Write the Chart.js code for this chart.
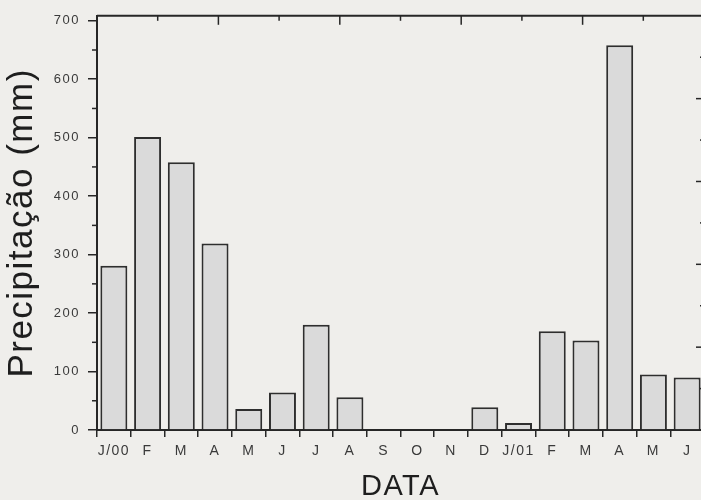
<!DOCTYPE html>
<html>
<head>
<meta charset="utf-8">
<script src="https://cdn.jsdelivr.net/npm/chart.js@4.4.1/dist/chart.umd.min.js"></script>
<style>
  html, body { margin: 0; padding: 0; background: #efeeeb; overflow: hidden; }
  #wrap { width: 706px; height: 500px; position: relative; }
</style>
</head>
<body>
<div id="wrap"><canvas id="c" width="706" height="500"></canvas></div>
<script>
const categories = ['J/00','F','M','A','M','J','J','A','S','O','N','D','J/01','F','M','A','M','J'];
const precipitacao = [281, 501, 458, 319, 36, 64, 180, 56, 0, 0, 0, 39, 12, 169, 153, 658, 95, 90];
const yTicks = [0, 100, 200, 300, 400, 500, 600, 700];
const yMinorTicks = [50, 150, 250, 350, 450, 550, 650];

const ink = '#262626';

const spacingPlugin = {
  id: 'spacing',
  beforeDraw(chart) { chart.ctx.letterSpacing = '1.5px'; },
  afterDatasetsDraw(chart) { chart.ctx.letterSpacing = '0px'; }
};

const framePlugin = {
  id: 'frame',
  afterDraw(chart) {
    const ctx = chart.ctx;
    const a = chart.chartArea;
    const y = chart.scales.y;
    ctx.save();
    ctx.strokeStyle = ink;
    ctx.lineWidth = 2;
    ctx.beginPath();
    ctx.moveTo(a.left, a.top);
    ctx.lineTo(a.right, a.top);
    ctx.stroke();
    ctx.lineWidth = 1.5;
    yMinorTicks.forEach(v => {
      const py = y.getPixelForValue(v);
      ctx.beginPath();
      ctx.moveTo(a.left - 5, py);
      ctx.lineTo(a.left, py);
      ctx.stroke();
    });
    for (let i = 1; i < 10; i++) {
      const px = a.left + (a.right - a.left) * i / 10;
      const len = i % 2 === 0 ? 9 : 5;
      ctx.beginPath();
      ctx.moveTo(px, a.top);
      ctx.lineTo(px, a.top + len);
      ctx.stroke();
    }
    for (let j = 1; j < 10; j++) {
      const py = a.bottom - (a.bottom - a.top) * j / 10;
      const len = j % 2 === 0 ? 8 : 4;
      ctx.beginPath();
      ctx.moveTo(a.right, py);
      ctx.lineTo(a.right - len, py);
      ctx.stroke();
    }
    ctx.restore();
  }
};

new Chart(document.getElementById('c'), {
  type: 'bar',
  data: {
    labels: categories,
    datasets: [{
      data: precipitacao,
      backgroundColor: '#dadada',
      borderColor: '#2e2e2e',
      borderWidth: 2,
      barPercentage: 0.8,
      categoryPercentage: 1.0
    }]
  },
  options: {
    responsive: false,
    animation: false,
    devicePixelRatio: 1,
    layout: { padding: { top: 12, right: 2, left: 0, bottom: 0 } },
    plugins: { legend: { display: false }, tooltip: { enabled: false } },
    scales: {
      x: {
        offset: true,
        grid: { offset: true, drawOnChartArea: false, tickLength: 7, color: ink, lineWidth: 1.5 },
        border: { color: ink, width: 2 },
        ticks: { color: '#3a3a3a', font: { family: 'Liberation Sans, Arial, sans-serif', size: 14 }, padding: 6, maxRotation: 0, autoSkip: false },
        title: { display: true, text: 'DATA', color: '#1e1e1e', font: { family: 'Liberation Sans, Arial, sans-serif', size: 29, lineHeight: 0.9 }, padding: { top: 0, bottom: 0 } },
        afterFit(s) { s.height = 70; }
      },
      y: {
        min: 0,
        max: 708.5,
        afterBuildTicks(s) { s.ticks = yTicks.map(v => ({ value: v })); },
        grid: { drawOnChartArea: false, tickLength: 9, color: ink, lineWidth: 1.5 },
        border: { color: ink, width: 2 },
        ticks: { color: '#3a3a3a', font: { family: 'Liberation Sans, Arial, sans-serif', size: 13 }, padding: 8 },
        title: { display: true, text: 'Precipitação (mm)', color: '#1e1e1e', font: { family: 'Liberation Sans, Arial, sans-serif', size: 35, lineHeight: 1.25 }, padding: { top: 0, bottom: 0 } },
        afterFit(s) { s.width = 97; }
      }
    }
  },
  plugins: [spacingPlugin, framePlugin]
});
</script>
</body>
</html>
